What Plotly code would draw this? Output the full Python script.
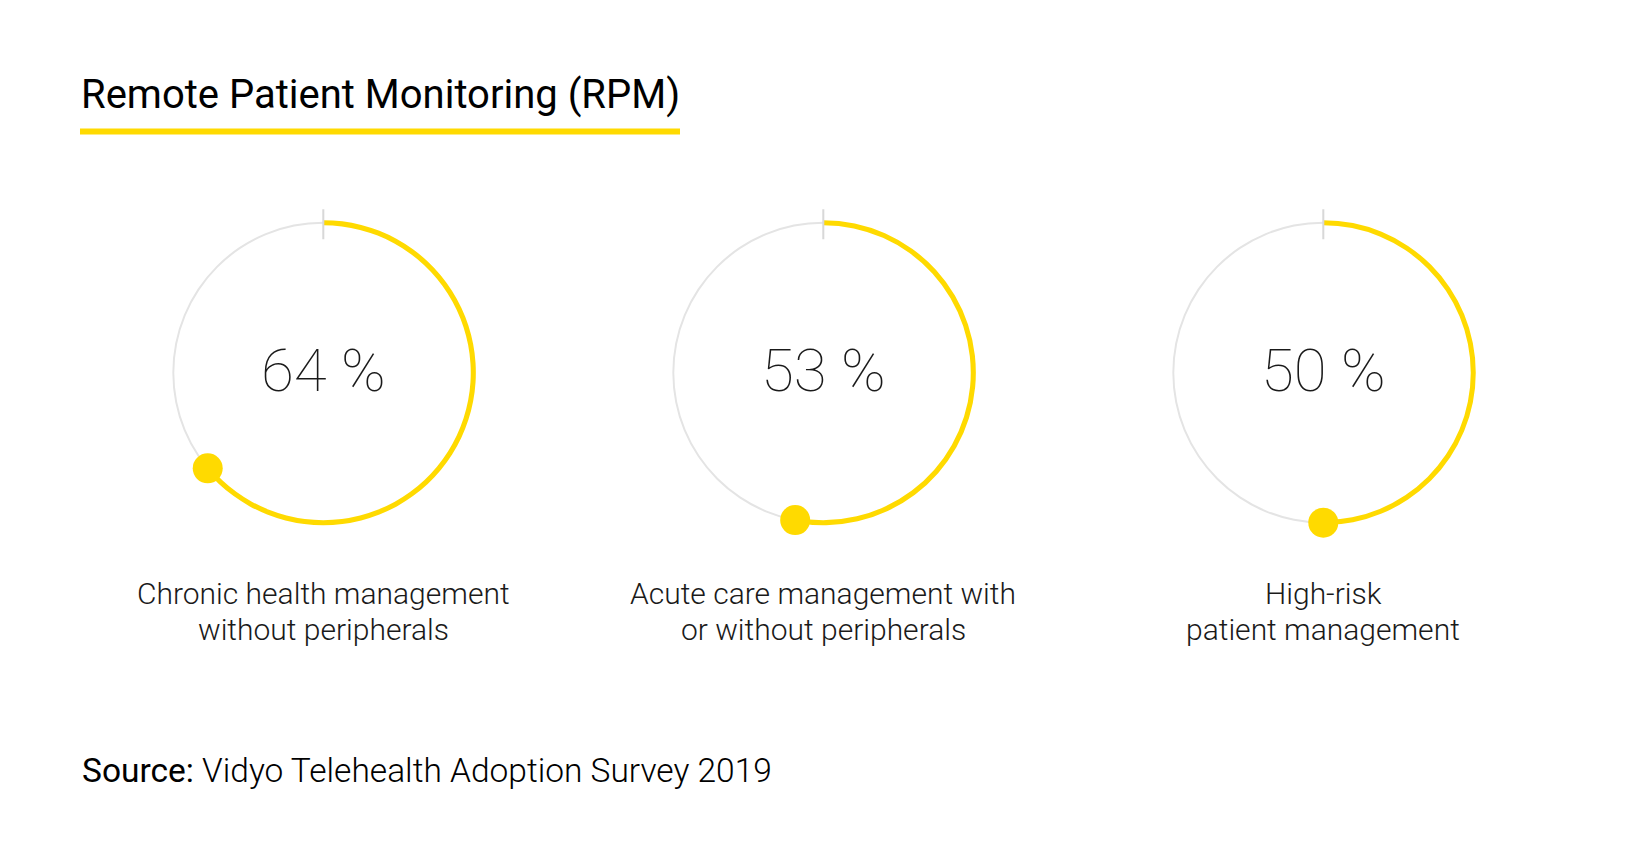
import plotly.graph_objects as go

# ---- data ----
categories = [
    "Chronic health management<br>without peripherals",
    "Acute care management with<br>or without peripherals",
    "High-risk<br>patient management",
]
values = [64, 53, 50]
title_text = "Remote Patient Monitoring (RPM)"
source_label = "Source:"
source_text = "Vidyo Telehealth Adoption Survey 2019"

# ---- style / layout ----
W, H = 1648, 866
YELLOW = "#FFDA00"
RING = "#E4E4E4"
TICK = "#D8D8D8"
TEXT = "#1a1a1a"
centers_x = [315.3, 815.3, 1315.3]
center_y = 364.7
R_OUT = 165  # px for radial value 1.1 (r=1 -> 150px)
label_line_y = [585.5, 621.5]

fig = go.Figure()
layout_polars = {}
annotations = []

for i, (cat, v) in enumerate(zip(categories, values)):
    pid = "polar" if i == 0 else f"polar{i+1}"
    sub = pid
    cx = centers_x[i]
    layout_polars[pid] = dict(
        domain=dict(
            x=[(cx - R_OUT) / W, (cx + R_OUT) / W],
            y=[1 - (center_y + R_OUT) / H, 1 - (center_y - R_OUT) / H],
        ),
        bgcolor="rgba(0,0,0,0)",
        radialaxis=dict(visible=False, range=[0, 1.1]),
        angularaxis=dict(visible=False, direction="clockwise", rotation=90),
    )
    # grey background ring
    fig.add_trace(go.Barpolar(
        r=[0.013], base=[0.9935], theta=[180], width=[360],
        marker=dict(color=RING, line=dict(width=0)),
        subplot=sub, showlegend=False, hoverinfo="skip",
    ))
    # yellow progress arc
    fig.add_trace(go.Barpolar(
        r=[0.034], base=[0.983], theta=[v * 3.6 / 2], width=[v * 3.6],
        marker=dict(color=YELLOW, line=dict(width=0)),
        subplot=sub, showlegend=False, hoverinfo="skip",
    ))
    # start tick
    fig.add_trace(go.Scatterpolar(
        r=[0.89, 1.09], theta=[0, 0], mode="lines",
        line=dict(color=TICK, width=2), cliponaxis=False,
        subplot=sub, showlegend=False, hoverinfo="skip",
    ))
    # end dot
    fig.add_trace(go.Scatterpolar(
        r=[1.0], theta=[v * 3.6], mode="markers",
        marker=dict(color=YELLOW, size=30, line=dict(width=0)), cliponaxis=False,
        subplot=sub, showlegend=False, hoverinfo="skip",
    ))
    # percentage
    annotations.append(dict(
        text=f"{v} %", x=cx / W, y=1 - (center_y - 2) / H, xref="paper", yref="paper",
        xanchor="center", yanchor="middle", showarrow=False,
        font=dict(family="Roboto", size=60, weight=100, color=TEXT),
    ))
    # category label (one annotation per line)
    for j, line in enumerate(cat.split("<br>")):
        annotations.append(dict(
            text=line, x=cx / W, y=1 - label_line_y[j] / H, xref="paper", yref="paper",
            xanchor="center", yanchor="middle", showarrow=False, align="center",
            font=dict(family="Roboto", size=30, weight=300, color=TEXT),
        ))

# title
annotations.append(dict(
    text=title_text, x=70.5 / W, y=1 - 86.7 / H, xref="paper", yref="paper",
    xanchor="left", yanchor="middle", showarrow=False,
    font=dict(family="Roboto", size=40, weight=400, color="#000000"),
))
# source
annotations.append(dict(
    text=f'<span style="font-weight:400">{source_label}</span> {source_text}',
    x=71.5 / W, y=1 - 762 / H, xref="paper", yref="paper",
    xanchor="left", yanchor="middle", showarrow=False,
    font=dict(family="Roboto", size=33.5, weight=300, color="#000000"),
))

fig.update_layout(
    width=W, height=H,
    margin=dict(l=0, r=0, t=0, b=0),
    paper_bgcolor="white", plot_bgcolor="white",
    annotations=annotations,
    shapes=[dict(
        type="line", xref="paper", yref="paper",
        x0=72 / W, x1=672 / W, y0=1 - 123.6 / H, y1=1 - 123.6 / H,
        line=dict(color=YELLOW, width=6),
    )],
    **layout_polars,
)

fig.write_html("out.html")
